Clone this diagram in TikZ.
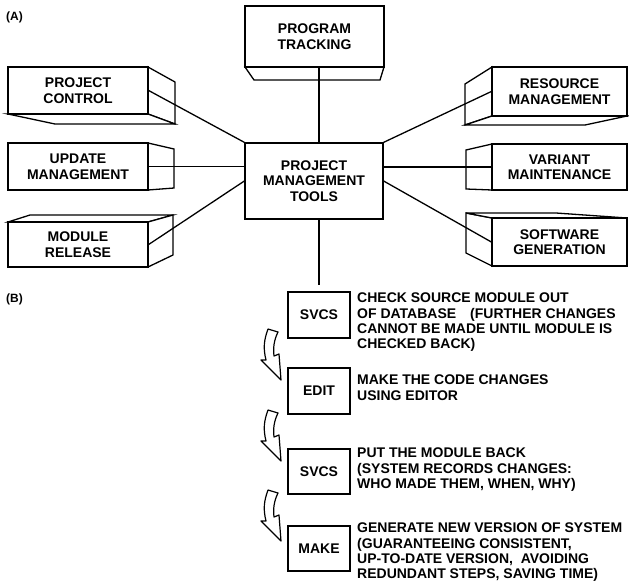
\documentclass[tikz,border=0pt]{standalone}
\usepackage{fontspec}
\setmainfont{Liberation Sans}
\newcommand\dgLbl{\fontsize{14}{15.5}\selectfont\bfseries}
\newcommand\dgTxt{\fontsize{14}{15.2}\selectfont\bfseries}
\begin{document}
\begin{tikzpicture}[x=1pt,y=1pt,
  lw/.style={line width=1.3pt},
  face/.style={lw, fill=white, line join=miter},
  conn/.style={lw},
  frontbox/.style={draw, lw, fill=white, inner sep=0pt, align=center, font=\dgLbl,
     minimum width=#1},
  frontbox/.default=140,
  stepbox/.style={draw, lw, fill=white, inner sep=0pt, font=\dgLbl,
     minimum width=62, minimum height=46},
  steptext/.style={anchor=north west, inner sep=0pt, align=left, font=\dgTxt},
  partlabel/.style={anchor=west, inner sep=0pt, font=\fontsize{12}{14}\selectfont\bfseries},
  hollowarrow/.pic={
    \draw[line width=1.2pt, fill=white, line join=round]
      (0,0) -- (10,-3) .. controls (6,-11) and (5,-19) .. (6,-27) -- (11,-25)
      -- (13,-51) -- (-7,-31) -- (-2,-31) .. controls (-5,-19) and (-4,-11) .. (0,0) -- cycle;
  }]
\useasboundingbox (0,0) rectangle (629,-581);

% part labels
\node[partlabel] (lA) at (6,-17) {(A)};
\node[partlabel] (lB) at (6,-299) {(B)};

% ---------- side faces ----------
% program tracking bottom face
\draw[face] (245,-67) -- (254,-80) -- (380,-80) -- (384,-67) -- cycle;
% project control
\draw[face] (148,-67) -- (175,-82) -- (175,-124) -- (148,-114) -- cycle;
\draw[face] (8,-114) -- (55,-124) -- (175,-124) -- (148,-114) -- cycle;
% update management
\draw[face] (148,-143) -- (174,-149) -- (174,-188) -- (148,-190) -- cycle;
% module release
\draw[face] (8,-222) -- (30,-215) -- (173,-215) -- (148,-222) -- cycle;
\draw[face] (148,-222) -- (173,-215) -- (173,-255) -- (148,-267) -- cycle;
% resource management
\draw[face] (492,-67) -- (465,-84) -- (465,-125) -- (492,-116) -- cycle;
\draw[face] (465,-125) -- (585,-125) -- (627,-116) -- (492,-116) -- cycle;
% variant maintenance
\draw[face] (492,-144) -- (466,-150) -- (466,-189) -- (492,-190) -- cycle;
% software generation
\draw[face] (492,-218) -- (466,-213) -- (466,-253) -- (492,-266) -- cycle;
\draw[face] (466,-213) -- (556,-213) -- (627,-218) -- (492,-218) -- cycle;

% ---------- front boxes ----------
\node[frontbox=139, minimum height=61] (pt) at (314.5,-36.5) {PROGRAM\\TRACKING};
\node[frontbox=138, minimum height=76] (c) at (314,-181) {PROJECT\\MANAGEMENT\\TOOLS};
\node[frontbox, minimum height=47] (pc) at (78,-90.5) {PROJECT\\CONTROL};
\node[frontbox, minimum height=47] (um) at (78,-166.5) {UPDATE\\MANAGEMENT};
\node[frontbox, minimum height=45] (mr) at (78,-244.5) {MODULE\\RELEASE};
\node[frontbox=135, minimum height=49] (rm) at (559.5,-91.5) {RESOURCE\\MANAGEMENT};
\node[frontbox=135, minimum height=46] (vm) at (559.5,-167) {VARIANT\\MAINTENANCE};
\node[frontbox=135, minimum height=48] (sg) at (559.5,-242) {SOFTWARE\\GENERATION};

% ---------- step boxes ----------
\node[stepbox] (s1) at (319,-315) {SVCS};
\node[stepbox] (ed) at (319,-391) {EDIT};
\node[stepbox, minimum height=45] (s2) at (319,-471.5) {SVCS};
\node[stepbox, minimum height=45] (mk) at (319,-548.5) {MAKE};
\coordinate (vend) at (319,-285);

% ---------- connectors ----------
\draw[conn] (pt.south -| s1.north) -- (c.north -| s1.north);
\draw[conn] (c.south -| s1.north) -- (vend);
\draw[conn] (c.north west) -- (pc.east);
\draw[conn] (c.west |- um.east) -- (um.east);
\draw[conn] (c.west) -- (mr.east);
\draw[conn] (c.north east) -- (rm.west);
\draw[conn] (c.east |- vm.west) -- (vm.west);
\draw[conn] (c.east) -- (sg.west);

% ---------- step texts ----------
\node[steptext] (t1) at (357,-293) {CHECK SOURCE MODULE OUT\\OF DATABASE\quad(FURTHER CHANGES\\CANNOT BE MADE UNTIL MODULE IS\\CHECKED BACK)};
\node[steptext] (t2) at (357,-375) {MAKE THE CODE CHANGES\\USING EDITOR};
\node[steptext] (t3) at (357,-448) {PUT THE MODULE BACK\\(SYSTEM RECORDS CHANGES:\\WHO MADE THEM, WHEN, WHY)};
\node[steptext] (t4) at (357,-523) {GENERATE NEW VERSION OF SYSTEM\\(GUARANTEEING CONSISTENT,\\UP-TO-DATE VERSION,\ \ AVOIDING\\REDUNDANT STEPS, SAVING TIME)};

% ---------- flow arrows ----------
\pic at (268,-329) {hollowarrow};
\pic at (268,-410) {hollowarrow};
\pic at (268,-490) {hollowarrow};
\end{tikzpicture}
\end{document}
